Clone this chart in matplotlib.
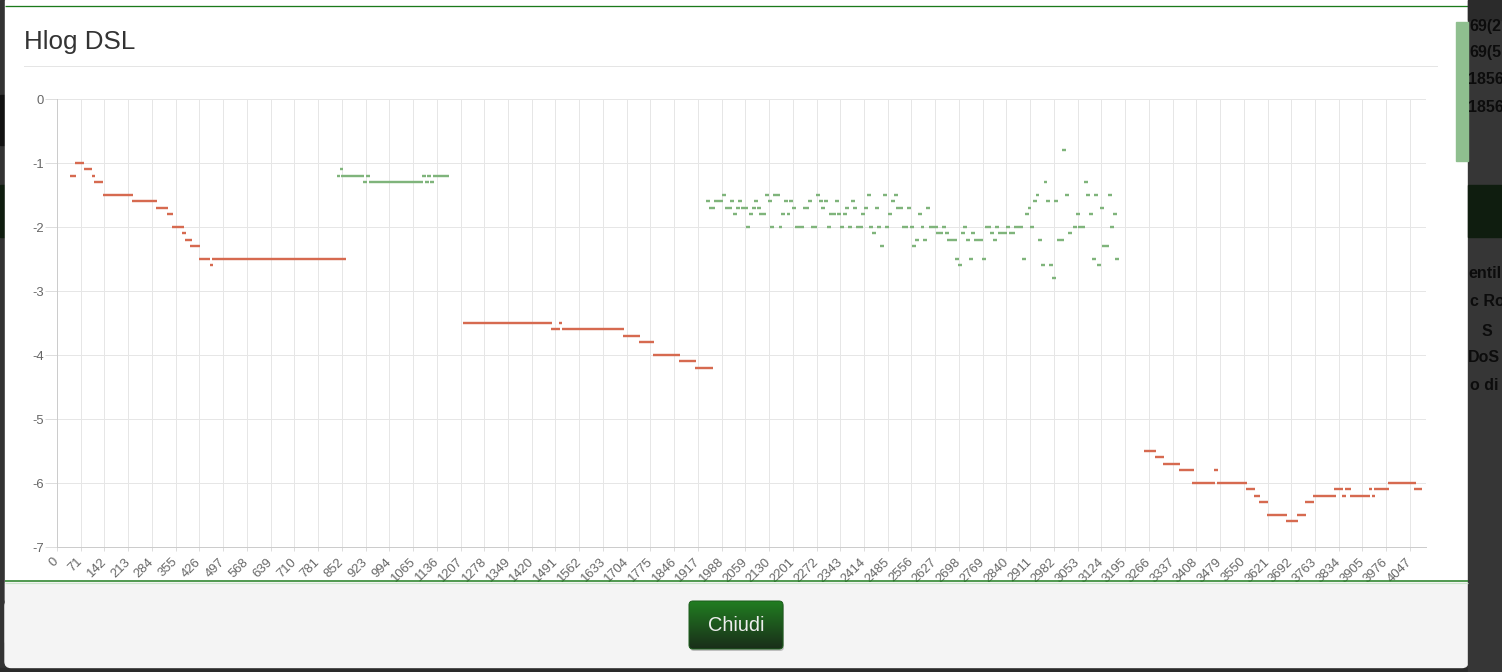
import numpy as np
import matplotlib
matplotlib.use("Agg")
import matplotlib.pyplot as plt
from matplotlib.patches import Rectangle, FancyBboxPatch

W, H, DPI = 1502, 672, 100
PT = 72.0 / DPI  # points per pixel

plt.rcParams['font.family'] = ['Liberation Sans', 'DejaVu Sans']

# ---------------- data ----------------
title = "Hlog DSL"
button_label = "Chiudi"
n_tones = 4096
x_ticks = list(range(0, n_tones, 71))
x_tick_labels = [str(t) for t in x_ticks]
y_ticks = [0, -1, -2, -3, -4, -5, -6, -7]
y_tick_labels = ["0", "-1", "-2", "-3", "-4", "-5", "-6", "-7"]

# downstream (red) runs: start tone, end tone, value
ds_start = [44, 61, 86, 109, 117, 142, 229, 302, 334, 349, 381, 389, 405, 430, 462, 468,
            1219, 1484, 1506, 1516, 1699, 1747, 1788, 1866, 1914,
            3258, 3290, 3314, 3362, 3402, 3466, 3475, 3561, 3585, 3602, 3625, 3682,
            3714, 3738, 3763, 3826, 3850, 3858, 3874, 3929, 3938, 3946, 3986, 4066]
ds_end = [52, 76, 100, 109, 132, 221, 293, 325, 342, 373, 381, 398, 422, 452, 462, 859,
          1474, 1498, 1506, 1690, 1738, 1779, 1857, 1906, 1956,
          3281, 3305, 3354, 3394, 3458, 3466, 3553, 3577, 3594, 3618, 3674, 3706,
          3730, 3753, 3819, 3842, 3850, 3866, 3922, 3929, 3938, 3978, 4058, 4076]
ds_val = [-1.2, -1.0, -1.1, -1.2, -1.3, -1.5, -1.6, -1.7, -1.8, -2.0, -2.1, -2.2, -2.3, -2.5, -2.6, -2.5,
          -3.5, -3.6, -3.5, -3.6, -3.7, -3.8, -4.0, -4.1, -4.2,
          -5.5, -5.6, -5.7, -5.8, -6.0, -5.8, -6.0, -6.1, -6.2, -6.3, -6.5, -6.6,
          -6.5, -6.3, -6.2, -6.1, -6.2, -6.1, -6.2, -6.1, -6.2, -6.1, -6.0, -6.1]

# upstream (green) band 1 runs
us1_start = [842, 851, 856, 921, 930, 939, 1098, 1106, 1113, 1121, 1131]
us1_end = [842, 851, 914, 921, 930, 1089, 1098, 1106, 1113, 1121, 1168]
us1_val = [-1.2, -1.1, -1.2, -1.3, -1.2, -1.3, -1.2, -1.3, -1.2, -1.3, -1.2]

# upstream (green) band 2, grouped by value level
us2_levels = [-0.8, -1.3, -1.5, -1.6, -1.7, -1.8, -2.0, -2.1, -2.2, -2.3, -2.5, -2.6, -2.8]
us2_starts = [
    [3013],
    [2957, 3077],
    [1996, 2123, 2147, 2276, 2429, 2477, 2509, 2933, 3021, 3085, 3109, 3149],
    [1947, 1971, 2019, 2044, 2092, 2132, 2180, 2196, 2252, 2285, 2300, 2332, 2381, 2501, 2925, 2965, 2989],
    [1955, 2004, 2036, 2052, 2084, 2100, 2204, 2236, 2292, 2364, 2388, 2420, 2452, 2516, 2549, 2605, 2909, 3125],
    [2027, 2075, 2107, 2172, 2188, 2316, 2340, 2356, 2412, 2492, 2581, 2901, 3053, 3093, 3165],
    [2068, 2140, 2164, 2213, 2260, 2308, 2348, 2372, 2396, 2436, 2460, 2484, 2533, 2557, 2589, 2613,
     2653, 2717, 2781, 2813, 2845, 2869, 2917, 3045, 3061, 3157],
    [2444, 2636, 2661, 2709, 2741, 2797, 2821, 2853, 3029],
    [2573, 2597, 2669, 2725, 2749, 2805, 2941, 2997],
    [2468, 2564, 3133],
    [2693, 2733, 2773, 2893, 3101, 3171],
    [2701, 2949, 2973, 3117],
    [2981],
]
us2_ends = [
    [3013],
    [2957, 3077],
    [1996, 2123, 2157, 2276, 2429, 2477, 2509, 2933, 3021, 3085, 3109, 3149],
    [1947, 1987, 2019, 2044, 2092, 2132, 2180, 2196, 2252, 2285, 2300, 2332, 2381, 2501, 2925, 2965, 2989],
    [1963, 2012, 2036, 2060, 2084, 2100, 2204, 2244, 2292, 2364, 2388, 2420, 2452, 2524, 2549, 2605, 2909, 3125],
    [2027, 2075, 2116, 2172, 2188, 2325, 2340, 2356, 2412, 2492, 2581, 2901, 3053, 3093, 3165],
    [2068, 2140, 2164, 2228, 2268, 2308, 2348, 2372, 2405, 2436, 2460, 2484, 2541, 2557, 2589, 2629,
     2653, 2717, 2789, 2813, 2845, 2884, 2917, 3045, 3069, 3157],
    [2444, 2645, 2661, 2709, 2741, 2797, 2837, 2861, 3029],
    [2573, 2597, 2685, 2725, 2765, 2805, 2941, 3005],
    [2468, 2564, 3141],
    [2693, 2733, 2773, 2893, 3101, 3171],
    [2701, 2949, 2973, 3117],
    [2981],
]

# background page fragments visible at the right edge
side_texts = ["69(2", "69(5", "1856", "1856", "entil", "c Ro", "S", "DoS", "o di"]

# ---------------- styles ----------------
DS_COLOR = '#d66a50'
US_COLOR = '#7fb47b'
DASH_HALF = 5.8          # half width of a point dash, in tones
DASH_LW = 2.4 * PT
GRID = '#e6e6e6'
AXIS = '#cccccc'
TXT = '#666666'

fig = plt.figure(figsize=(W / DPI, H / DPI), dpi=DPI)

# background layer (pixel coordinates)
bg = fig.add_axes([0, 0, 1, 1])
bg.set_xlim(0, W)
bg.set_ylim(H, 0)
bg.axis('off')
bg.set_zorder(-1)
bg.add_patch(Rectangle((0, 0), W, H, color='#333333'))
bg.add_patch(Rectangle((0, 95), 5, 50, color='#121212'))
bg.add_patch(Rectangle((0, 185), 5, 52, color='#0f1d0f'))
bg.add_patch(Rectangle((5, 0), 1463, 600, color='white'))
bg.plot([5, 1468], [6, 6], color='#1b7a1b', lw=1.3 * PT, solid_capstyle='butt')
bg.text(24, 49, title, fontsize=26 * PT, color='#333333', ha='left', va='baseline')
bg.plot([24, 1437], [65.5, 65.5], color='#e5e5e5', lw=1 * PT)

# chart
ax = fig.add_axes([57 / W, (H - 547) / H, (1426 - 57) / W, (547 - 99) / H])
ax.set_zorder(1)
ax.patch.set_alpha(0)
ax.set_xlim(0, n_tones - 1)
ax.set_ylim(-7, 0)
ax.set_xticks(x_ticks)
ax.set_xticklabels(x_tick_labels)
ax.set_yticks(y_ticks)
ax.set_yticklabels(y_tick_labels)
ax.grid(True, color=GRID, lw=1 * PT)
ax.set_axisbelow(True)
for s in ['top', 'right']:
    ax.spines[s].set_visible(False)
for s in ['left', 'bottom']:
    ax.spines[s].set_color(AXIS)
    ax.spines[s].set_linewidth(1 * PT)
ax.axhline(0, color=AXIS, lw=1 * PT, zorder=0.5)
ax.tick_params(axis='y', length=12 * PT, width=1 * PT, color='#dddddd', pad=1 * PT,
               labelsize=13 * PT, labelcolor=TXT)
ax.tick_params(axis='x', length=4 * PT, width=1 * PT, color='#dddddd', pad=9 * PT,
               labelsize=13 * PT, labelcolor=TXT)
for lbl in ax.get_xticklabels():
    lbl.set_rotation(45)
    lbl.set_ha('right')
    lbl.set_va('center')
    lbl.set_rotation_mode('anchor')

ds_s = np.array(ds_start, dtype=float)
ds_e = np.array(ds_end, dtype=float)
ax.hlines(ds_val, ds_s - DASH_HALF, ds_e + DASH_HALF, colors=DS_COLOR, lw=DASH_LW, zorder=3)
us_s = np.array(us1_start, dtype=float)
us_e = np.array(us1_end, dtype=float)
ax.hlines(us1_val, us_s - DASH_HALF, us_e + DASH_HALF, colors=US_COLOR, lw=DASH_LW, zorder=3)
for lev, st, en in zip(us2_levels, us2_starts, us2_ends):
    st = np.array(st, dtype=float)
    en = np.array(en, dtype=float)
    ax.hlines([lev] * len(st), st - DASH_HALF, en + DASH_HALF, colors=US_COLOR, lw=DASH_LW, zorder=3)

# overlay layer
ov = fig.add_axes([0, 0, 1, 1])
ov.set_zorder(2)
ov.set_xlim(0, W)
ov.set_ylim(H, 0)
ov.axis('off')
ov.patch.set_alpha(0)
ov.add_patch(Rectangle((5, 582), 1463, 60, color='#f4f4f4', zorder=1))
ov.add_patch(FancyBboxPatch((5, 600), 1463, 67.5, boxstyle='round,pad=0,rounding_size=6',
                            color='#f4f4f4', zorder=1))
ov.plot([5, 1468], [581, 581], color='#1b7a1b', lw=1.5 * PT, zorder=2, solid_capstyle='butt')
ov.plot([5, 1468], [582.8, 582.8], color='#cde6cd', lw=1.2 * PT, zorder=2, solid_capstyle='butt')

# right dark region
ov.add_patch(Rectangle((1468, 0), 34, H, color='#363636', zorder=1))
ov.add_patch(Rectangle((1468, 0), 34, 20, color='#2b2b2b', zorder=1))
ov.add_patch(Rectangle((1468, 185), 34, 52, color='#0f1d0f', zorder=1))
ov.add_patch(Rectangle((1456, 22), 12, 139, color='#8fbf8f', zorder=2))
side_pos = [(1469, 27), (1469, 53), (1468, 80), (1468, 108),
            (1468, 274), (1470, 302), (1482, 331), (1468, 358), (1470, 385)]
for txt, (xx, yy) in zip(side_texts, side_pos):
    ov.text(xx, yy, txt, fontsize=16 * PT, color='#0c0c0c', fontweight='bold',
            ha='left', va='center', zorder=3)
ov.add_patch(Rectangle((0, 668), W, 4, color='#2a2a2a', zorder=0.5))

# button
ov.add_patch(FancyBboxPatch((690, 603), 94, 48, boxstyle='round,pad=0,rounding_size=4',
                            color='black', alpha=0.22, zorder=3, lw=0))
btn = FancyBboxPatch((689, 601), 94, 48, boxstyle='round,pad=0,rounding_size=4',
                     facecolor='none', edgecolor='#1d5e1d', lw=1 * PT, zorder=5)
ov.add_patch(btn)
top = np.array([0.13, 0.49, 0.13])
bot = np.array([0.10, 0.18, 0.10])
grad = np.linspace(0, 1, 64)[:, None, None]
img = top[None, None, :] * (1 - grad) + bot[None, None, :] * grad
img = np.repeat(img, 2, axis=1)
im = ov.imshow(img, extent=[689, 783, 649, 601], origin='upper', aspect='auto', zorder=4,
               interpolation='bilinear')
im.set_clip_path(btn)
ov.set_xlim(0, W)
ov.set_ylim(H, 0)
ov.text(736, 625.5, button_label, fontsize=20 * PT, color='#eeeeee', ha='center', va='center',
        zorder=6)

fig.savefig('out.png', dpi=DPI)
